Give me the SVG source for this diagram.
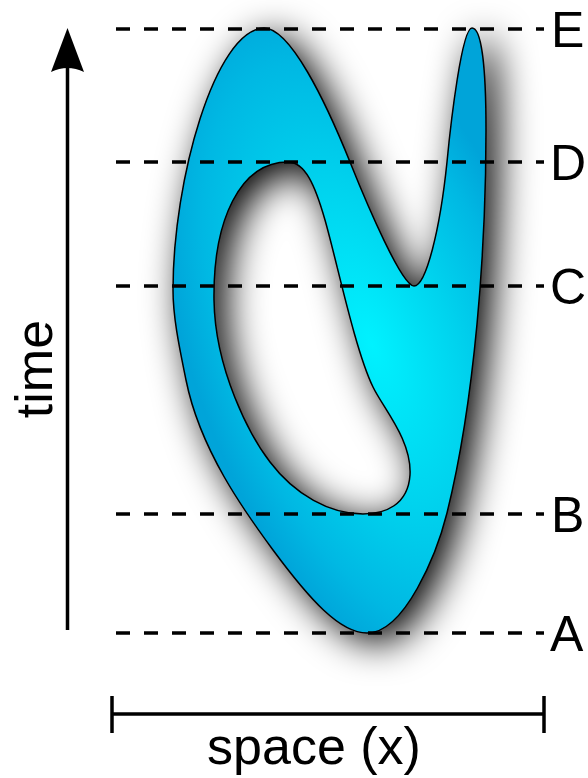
<svg xmlns="http://www.w3.org/2000/svg" width="588" height="778" viewBox="0 0 588 778">
  <style>
    .lbl { font-family: "Liberation Sans", Arial, sans-serif; font-size: 50px; fill: #000; }
    .big { font-family: "Liberation Sans", Arial, sans-serif; font-size: 52px; fill: #000; }
    .dash { stroke: #000; stroke-width: 3.3; stroke-dasharray: 14 14; fill: none; }
    .axis { stroke: #000; stroke-width: 3.5; fill: none; }
  </style>
  <defs>
    <radialGradient id="blobGrad" gradientUnits="userSpaceOnUse" cx="0" cy="0" r="1"
        gradientTransform="translate(372,345) rotate(-20) scale(180,370)">
      <stop offset="0" stop-color="#00f2ff"/>
      <stop offset="0.45" stop-color="#00d3ee"/>
      <stop offset="0.8" stop-color="#00b8e3"/>
      <stop offset="1" stop-color="#00a4d9"/>
    </radialGradient>
    <filter id="shadow" x="-40%" y="-25%" width="180%" height="150%">
      <feGaussianBlur in="SourceAlpha" stdDeviation="19" result="b"/>
      <feOffset in="b" dx="11" dy="9" result="o"/>
      <feFlood flood-color="#000" flood-opacity="1"/>
      <feComposite in2="o" operator="in" result="s"/>
      <feMerge>
        <feMergeNode in="s"/>
        <feMergeNode in="SourceGraphic"/>
      </feMerge>
    </filter>
  </defs>

  <g id="blob" filter="url(#shadow)">
    <path fill="url(#blobGrad)" fill-rule="evenodd" stroke="#000" stroke-width="1.5"
      d="M264,28 C290,28 325,100 350,162 C368,207 402,286 414,286 C426,286 440,230 447,162 C451,120 462,28 472,28 C482,28 486,70 486,130 C486,250 475,400 447,513 C437,553 405,633 367,633 C340,633 310,600 273,550 C245,512 200,450 186,380 C181,355 173,320 173,290 C173,180 215,30 264,28 Z
         M288,162 C305,162 315,185 325,220 C337,262 355,350 373,387 C383,408 412,440 410,475 C408,505 385,514 363,514 C330,514 295,495 270,462 C250,436 215,370 214,300 C213,220 240,162 288,162 Z"/>
  </g>

  <g id="connectors">
    <line class="dash" x1="116" y1="29" x2="544" y2="29"/>
    <line class="dash" x1="116" y1="162" x2="544" y2="162"/>
    <line class="dash" x1="116" y1="286" x2="544" y2="286"/>
    <line class="dash" x1="116" y1="514" x2="544" y2="514"/>
    <line class="dash" x1="116" y1="633" x2="544" y2="633"/>
  </g>

  <g id="labels">
    <text class="lbl" x="551" y="47">E</text>
    <text class="lbl" x="550" y="180">D</text>
    <text class="lbl" x="550" y="304">C</text>
    <text class="lbl" x="551" y="532">B</text>
    <text class="lbl" x="550" y="651">A</text>
  </g>

  <g id="time-axis">
    <line class="axis" x1="67.5" y1="630" x2="67.5" y2="64"/>
    <path d="M67.5,28 L84,72 Q67.5,64 51,72 Z" fill="#000"/>
    <text class="big" transform="translate(52,369) rotate(-90)" text-anchor="middle">time</text>
  </g>

  <g id="space-axis">
    <line class="axis" x1="112" y1="714" x2="544" y2="714"/>
    <line class="axis" x1="112" y1="696" x2="112" y2="733"/>
    <line class="axis" x1="544" y1="696" x2="544" y2="733"/>
    <text class="big" x="314" y="764" text-anchor="middle">space (x)</text>
  </g>
</svg>
